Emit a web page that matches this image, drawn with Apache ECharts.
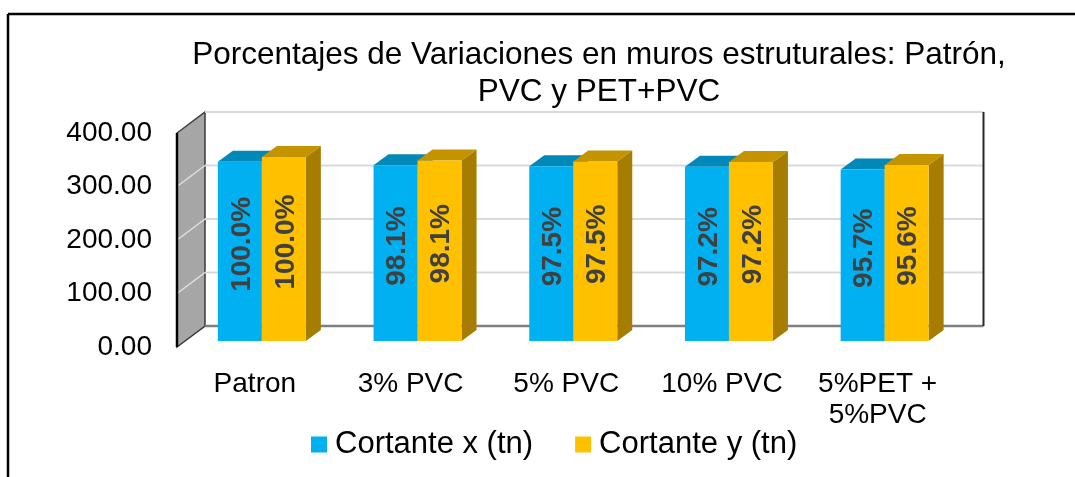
<!DOCTYPE html>
<html>
<head>
<meta charset="utf-8">
<script src="https://cdn.jsdelivr.net/npm/echarts@6/dist/echarts.min.js"></script>
<style>
  html, body { margin: 0; padding: 0; background: #ffffff; }
  #chart { width: 1075px; height: 477px; }
</style>
</head>
<body>
<div id="chart"></div>
<script>
// Categories and values (cortante, tn)
const categories = ['Patron', '3% PVC', '5% PVC', '10% PVC', '5%PET +\n5%PVC'];
const cortanteX = [335.0, 328.6, 326.6, 325.6, 320.6];
const cortanteY = [344.0, 337.5, 335.4, 334.4, 328.9];
// Percent of the Patron value shown on each bar
const pctX = ['100.0%', '98.1%', '97.5%', '97.2%', '95.7%'];
const pctY = ['100.0%', '98.1%', '97.5%', '97.2%', '95.6%'];
const yTicks = [0, 100, 200, 300, 400];

const FONT = '"Liberation Sans", Arial, sans-serif';

// Pseudo-3D geometry (offsets from the bar front plane)
const FRONT = [-7, 6];
const BACK = [21, -15];
const DEPTH = [15, -11];
const BAR_FRAC = 44 / 155.7;

const COLORS = {
  x: { front: '#00B0F0', top: '#0088B9', side: '#007CA8' },
  y: { front: '#FFC000', top: '#C49300', side: '#A67D00' }
};

function renderWalls(params, api) {
  const cs = params.coordSys;
  const left = cs.x, right = cs.x + cs.width;
  const yOf = v => api.coord([0, v])[1];
  const y0 = yOf(0), yTop = yOf(yTicks[yTicks.length - 1]);
  const children = [];
  // left side wall
  children.push({
    type: 'polygon',
    shape: { points: [
      [left + FRONT[0], y0 + FRONT[1]],
      [left + BACK[0], y0 + BACK[1]],
      [left + BACK[0], yTop + BACK[1]],
      [left + FRONT[0], yTop + FRONT[1]]
    ] },
    style: { fill: '#A6A6A6', stroke: '#3a3a3a', lineWidth: 1.5 }
  });
  yTicks.forEach(v => {
    const y = yOf(v);
    if (v > 0) {
      // back wall gridline
      children.push({
        type: 'line',
        shape: { x1: left + BACK[0], y1: y + BACK[1], x2: right + BACK[0], y2: y + BACK[1] },
        style: { stroke: '#D9D9D9', lineWidth: 2 }
      });
      if (v < yTicks[yTicks.length - 1]) {
        // gridline across the side wall
        children.push({
          type: 'line',
          shape: { x1: left + FRONT[0], y1: y + FRONT[1], x2: left + BACK[0], y2: y + BACK[1] },
          style: { stroke: '#E0E0E0', lineWidth: 1.5 }
        });
      }
    }
  });
  // floor line at the back wall
  children.push({
    type: 'line',
    shape: { x1: left + BACK[0], y1: y0 + BACK[1], x2: right + BACK[0], y2: y0 + BACK[1] },
    style: { stroke: '#7F7F7F', lineWidth: 2.5 }
  });
  // right edge of back wall
  children.push({
    type: 'line',
    shape: { x1: right + BACK[0], y1: yTop + BACK[1], x2: right + BACK[0], y2: y0 + BACK[1] },
    style: { stroke: '#262626', lineWidth: 2 }
  });
  // front edge of side wall
  children.push({
    type: 'line',
    shape: { x1: left + FRONT[0], y1: yTop + FRONT[1], x2: left + FRONT[0], y2: y0 + FRONT[1] },
    style: { stroke: '#000000', lineWidth: 2.5 }
  });
  return { type: 'group', children: children };
}

function makeBarRenderer(side, palette, labels) {
  return function (params, api) {
    const idx = api.value(0);
    const val = api.value(1);
    const base = api.coord([idx, 0]);
    const top = api.coord([idx, val]);
    const w = api.size([1, 0])[0] * BAR_FRAC;
    const x0 = side === 0 ? base[0] - w : base[0];
    const x1 = x0 + w;
    const yb = base[1], yt = top[1];
    const dx = DEPTH[0], dy = DEPTH[1];
    return {
      type: 'group',
      children: [
        { type: 'polygon', shape: { points: [[x1, yb], [x1 + dx, yb + dy], [x1 + dx, yt + dy], [x1, yt]] },
          style: { fill: palette.side } },
        { type: 'polygon', shape: { points: [[x0, yt], [x1, yt], [x1 + dx, yt + dy], [x0 + dx, yt + dy]] },
          style: { fill: palette.top } },
        { type: 'rect', shape: { x: x0, y: yt, width: w, height: yb - yt },
          style: { fill: palette.front } },
        { type: 'text', x: (x0 + x1) / 2 + 2, y: (yt + yb) / 2 - 7, rotation: Math.PI / 2,
          style: { text: labels[idx], fill: '#404040', font: 'bold 28px ' + FONT,
                   align: 'center', verticalAlign: 'middle',
                   textAlign: 'center', textVerticalAlign: 'middle' } }
      ]
    };
  };
}

const chart = echarts.init(document.getElementById('chart'), null, { renderer: 'canvas' });

const option = {
  backgroundColor: '#ffffff',
  animation: false,
  title: {
    text: 'Porcentajes de Variaciones en muros estruturales: Patrón,\nPVC y PET+PVC',
    left: 594,
    top: 32,
    textAlign: 'center',
    textStyle: { fontFamily: FONT, fontSize: 31.5, fontWeight: 'normal', color: '#000', lineHeight: 37 }
  },
  legend: {
    data: ['Cortante x (tn)', 'Cortante y (tn)'],
    left: 306,
    top: 424,
    icon: 'rect',
    itemWidth: 16,
    itemHeight: 16,
    itemGap: 42,
    textStyle: { fontFamily: FONT, fontSize: 31, color: '#000', padding: [0, 0, 0, 3] }
  },
  graphic: [
    { type: 'line', shape: { x1: 8, y1: 14, x2: 1075, y2: 14 }, style: { stroke: '#000', lineWidth: 2.5 }, z: 100 },
    { type: 'line', shape: { x1: 8, y1: 14, x2: 8, y2: 477 }, style: { stroke: '#000', lineWidth: 2.5 }, z: 100 }
  ],
  grid: [
    // front plane: axis labels
    { left: 177, right: 1075 - 955.5, top: 133, bottom: 477 - 347 },
    // plane of the bar front faces
    { left: 184, right: 1075 - 962.5, top: 127, bottom: 477 - 341 }
  ],
  xAxis: [
    { type: 'category', gridIndex: 0, data: categories,
      axisLine: { show: false }, axisTick: { show: false },
      axisLabel: { interval: 0, margin: 22, fontFamily: FONT, fontSize: 28, color: '#000', lineHeight: 31 } },
    { type: 'category', gridIndex: 1, data: categories, show: false }
  ],
  yAxis: [
    { type: 'value', gridIndex: 0, min: 0, max: 400, interval: 100,
      axisLine: { show: false }, axisTick: { show: false }, splitLine: { show: false },
      axisLabel: { margin: 25, fontFamily: FONT, fontSize: 28, color: '#000',
                   formatter: v => v.toFixed(2) } },
    { type: 'value', gridIndex: 1, min: 0, max: 400, interval: 100, show: false, splitLine: { show: false } }
  ],
  series: [
    { type: 'custom', name: 'walls', xAxisIndex: 1, yAxisIndex: 1, silent: true, z: 1,
      renderItem: renderWalls, data: [[0, 0]] },
    { type: 'custom', name: 'Cortante x (tn)', xAxisIndex: 1, yAxisIndex: 1, z: 2,
      itemStyle: { color: COLORS.x.front },
      renderItem: makeBarRenderer(0, COLORS.x, pctX),
      data: cortanteX.map((v, i) => [i, v]) },
    { type: 'custom', name: 'Cortante y (tn)', xAxisIndex: 1, yAxisIndex: 1, z: 3,
      itemStyle: { color: COLORS.y.front },
      renderItem: makeBarRenderer(1, COLORS.y, pctY),
      data: cortanteY.map((v, i) => [i, v]) }
  ]
};

chart.setOption(option);
</script>
</body>
</html>
